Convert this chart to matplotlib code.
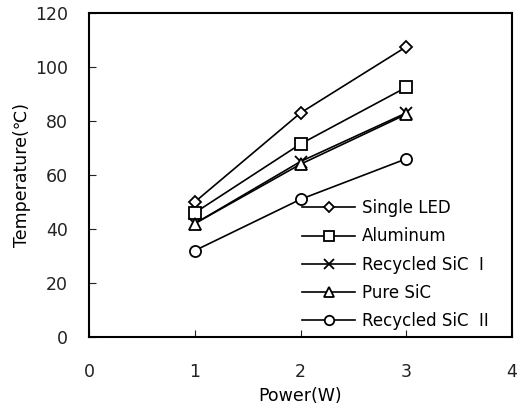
import matplotlib
matplotlib.use("Agg")
import matplotlib.pyplot as plt

plt.rcParams['font.family'] = ['DejaVu Sans', 'Noto Sans CJK KR']

power = [1, 2, 3]
single_led = [50, 83, 107.5]
aluminum = [46, 71.5, 92.5]
recycled_sic_1 = [42, 65, 83]
pure_sic = [42, 64, 82.5]
recycled_sic_2 = [32, 51, 66]

series = [
    ("Single LED", single_led, "D", 6),
    ("Aluminum", aluminum, "s", 9),
    ("Recycled SiC  I", recycled_sic_1, "x", 9),
    ("Pure SiC", pure_sic, "^", 8),
    ("Recycled SiC  II", recycled_sic_2, "o", 8),
]

fig = plt.figure(figsize=(5.22, 4.13), dpi=100)
ax = fig.add_axes([0.1705, 0.184, 0.8105, 0.7845])

for label, y, m, ms in series:
    ax.plot(power, y, color="black", lw=1.2, marker=m, markersize=ms,
            markerfacecolor="white", markeredgecolor="black", markeredgewidth=1.3,
            label=label)

ax.set_xlim(0, 4)
ax.set_ylim(0, 120)
ax.set_xticks([0, 1, 2, 3, 4])
ax.set_yticks(range(0, 121, 20))
ax.tick_params(direction="in", length=5, labelsize=12.5, colors="#222222")
ax.tick_params(axis="y", pad=15)
ax.tick_params(axis="x", pad=19)
for s in ax.spines.values():
    s.set_linewidth(1.5)
ax.set_xlabel("Power(W)", fontsize=12.5, labelpad=4)
ax.set_ylabel("Temperature(℃)", fontsize=12.5, labelpad=3)

ax.legend(loc="lower left", bbox_to_anchor=(0.5035, 0.022), frameon=False,
          fontsize=12, handlelength=3.2, labelspacing=0.61, handletextpad=0.42,
          borderpad=0, borderaxespad=0, markerscale=0.85)

fig.savefig("out.png", dpi=100)
